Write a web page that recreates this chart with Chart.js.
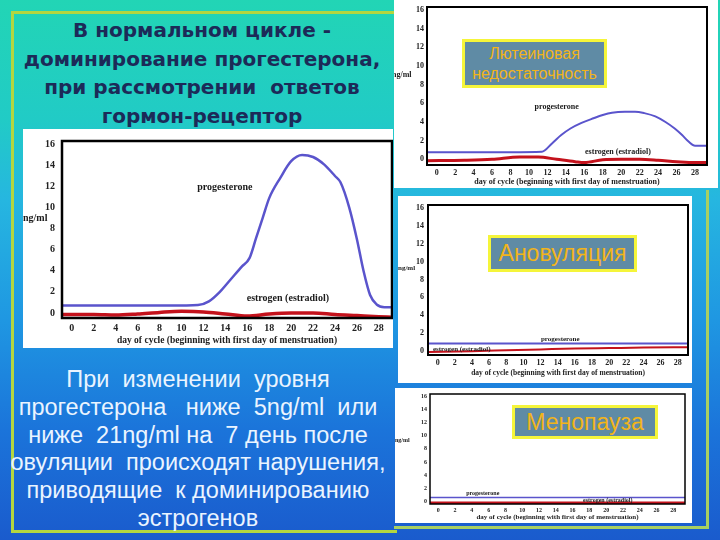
<!DOCTYPE html>
<html>
<head>
<meta charset="utf-8">
<script src="https://cdn.jsdelivr.net/npm/chart.js@4.4.0/dist/chart.umd.min.js"></script>
<style>
  html, body { margin: 0; padding: 0; }
  body {
    width: 720px; height: 540px; position: relative; overflow: hidden;
    background: linear-gradient(to bottom, #22d5b5 0px, #21cbc6 120px, #26b6e0 200px, #1f97e2 320px, #1b74da 430px, #1a5bcd 540px);
  }
  .frame-left { position: absolute; left: 11px; top: 11px; width: 383px; height: 516px; border: 3px solid #b4d640; border-right: none; }
  .frame-right { position: absolute; left: 394px; top: 190px; width: 312px; height: 336px; border-right: 3px solid #a9cf62; border-bottom: 3px solid #a9cf62; }
  .title { position: absolute; left: 12px; top: 16px; width: 380px; text-align: center; font: bold 20px/28.5px "DejaVu Sans", sans-serif; color: #1c2a58; }
  .note { position: absolute; left: 0; top: 366px; width: 396px; text-align: center; font: 23.5px/27.8px "Liberation Sans", Arial, sans-serif; color: #eaf4ff; white-space: nowrap; }
  .panel { position: absolute; background: #fff; }
  .panel canvas { display: block; }
  .callout { position: absolute; box-sizing: border-box; background: #5f8ba5; border: 3px solid #f5f53a; color: #f2b41a;
    display: flex; align-items: center; justify-content: center; text-align: center; font-family: "Liberation Sans", Arial, sans-serif; }
</style>
</head>
<body>
<div class="frame-left"></div>
<div class="frame-right"></div>

<div class="title">В нормальном цикле -<br>доминирование прогестерона,<br>при рассмотрении&nbsp; ответов<br>гормон-рецептор</div>

<div class="note">При&nbsp; изменении&nbsp; уровня<br>прогестерона&nbsp;&nbsp; ниже&nbsp; 5ng/ml&nbsp; или<br>ниже&nbsp; 21ng/ml на&nbsp; 7 день после<br>овуляции&nbsp; происходят нарушения,<br>приводящие&nbsp; к доминированию<br>эстрогенов</div>

<div class="panel" style="left:23px; top:129px;"><canvas id="normal" width="370" height="219"></canvas></div>
<div class="panel" style="left:394px; top:0px;"><canvas id="luteal" width="324" height="188"></canvas></div>
<div class="panel" style="left:398px; top:196px;"><canvas id="anov" width="294" height="187"></canvas></div>
<div class="panel" style="left:395px; top:388px;"><canvas id="meno" width="297" height="135"></canvas></div>

<div class="callout" style="left:462px; top:39px; width:145px; height:49px; font-size:16px; line-height:20px;">Лютеиновая<br>недостаточность</div>
<div class="callout" style="left:488px; top:235px; width:149px; height:37px; font-size:23px;">Ановуляция</div>
<div class="callout" style="left:512px; top:405px; width:146px; height:34px; font-size:23px;">Менопауза</div>

<script>
// axis ticks and texts
const dayTicks = [0, 2, 4, 6, 8, 10, 12, 14, 16, 18, 20, 22, 24, 26, 28];
const ngTicks = [0, 2, 4, 6, 8, 10, 12, 14, 16];
const seriesNames = ['progesterone', 'estrogen (estradiol)'];
const unitLabel = 'ng/ml';
const xTitle = 'day of cycle (beginning with first day of menstruation)';

// normal cycle
const normalProgDays = [-0.9, 3, 6, 9, 11.5, 12.5, 13.5, 14.5, 15.5, 16.2, 16.8, 17.4, 18, 19, 20, 21, 22, 23, 24, 24.5, 25.3, 26, 26.6, 27.2, 27.8, 28.5, 29.2];
const normalProgValues = [0.7, 0.7, 0.7, 0.7, 0.75, 1.1, 2.0, 3.2, 4.4, 5.2, 7.1, 9.0, 10.9, 12.8, 14.4, 15.0, 14.8, 14.1, 13.0, 12.4, 10.0, 7.0, 4.0, 1.7, 0.8, 0.55, 0.55];
const normalEstrDays = [-0.9, 2, 4, 6, 8, 10, 12, 14, 16, 18, 20, 22, 24, 26, 28, 29.2];
const normalEstrValues = [-0.15, -0.15, -0.2, -0.1, 0.05, 0.15, 0.1, -0.1, -0.3, -0.1, 0.0, 0.0, -0.15, -0.25, -0.35, -0.4];

// luteal insufficiency
const lutealProgDays = [-1.05, 4, 8, 11.4, 12.5, 13.5, 14.5, 15.7, 17, 18, 19, 20.4, 21.5, 22.5, 23.7, 24.8, 25.8, 26.6, 27.3, 28, 29.3];
const lutealProgValues = [0.75, 0.75, 0.75, 0.8, 1.7, 2.6, 3.3, 3.9, 4.4, 4.75, 5.0, 5.1, 5.1, 4.95, 4.6, 4.0, 3.3, 2.6, 1.9, 1.45, 1.45];
const lutealEstrDays = [-1.05, 3, 6, 9, 11, 13, 15, 16, 18, 20, 22, 24, 26, 28, 29.3];
const lutealEstrValues = [-0.15, -0.1, 0.0, 0.25, 0.25, 0.0, -0.25, -0.35, -0.05, 0.0, 0.0, -0.1, -0.25, -0.35, -0.35];

// anovulation
const anovProgDays = [-1.13, 10, 20, 29.2];
const anovProgValues = [0.8, 0.8, 0.8, 0.8];
const anovEstrDays = [-1.13, 4, 8, 12, 16, 20, 24, 29.2];
const anovEstrValues = [-0.15, -0.05, 0.05, 0.15, 0.25, 0.3, 0.35, 0.4];

// menopause
const menoProgDays = [-0.99, 29.4];
const menoProgValues = [0.65, 0.65];
const menoEstrDays = [-0.99, 29.4];
const menoEstrValues = [-0.2, -0.2];

const serif = '"Liberation Serif", "Times New Roman", serif';

// frame round the plot, curve names and the unit text
const decorPlugin = {
  id: 'decor',
  afterDatasetsDraw(chart, args, opts) {
    const { ctx, chartArea: a, scales: { x, y } } = chart;
    ctx.save();
    ctx.lineWidth = opts.frame;
    ctx.strokeStyle = '#000';
    ctx.strokeRect(a.left, a.top, a.right - a.left, a.bottom - a.top);
    ctx.fillStyle = '#1a1a1a';
    ctx.font = `bold ${opts.size}px ${serif}`;
    ctx.textBaseline = 'middle';
    ctx.textAlign = 'center';
    opts.names.forEach((p, i) => {
      ctx.fillText(seriesNames[i], x.getPixelForValue(p.day), y.getPixelForValue(p.value));
    });
    ctx.textAlign = 'left';
    ctx.fillText(unitLabel, opts.unit.x, y.getPixelForValue(opts.unit.value));
    ctx.restore();
  }
};

function cycleChart(id, s) {
  const points = (days, values) => days.map((d, i) => ({ x: d, y: values[i] }));
  const tickFont = { family: serif, weight: 'bold', size: s.tickSize, lineHeight: 1 };
  return new Chart(document.getElementById(id), {
    type: 'line',
    data: {
      datasets: [
        { label: seriesNames[0], data: points(s.progDays, s.progValues), borderColor: '#5a54cc', borderWidth: s.progWidth },
        { label: seriesNames[1], data: points(s.estrDays, s.estrValues), borderColor: '#c4121c', borderWidth: s.estrWidth }
      ]
    },
    options: {
      responsive: false,
      animation: false,
      devicePixelRatio: 1,
      layout: { padding: s.padding },
      elements: {
        point: { radius: 0 },
        line: { cubicInterpolationMode: 'monotone', fill: false }
      },
      plugins: {
        legend: { display: false },
        tooltip: { enabled: false },
        decor: { frame: s.frame, size: s.labelSize, names: s.names, unit: s.unit }
      },
      scales: {
        x: {
          type: 'linear', min: s.xMin, max: s.xMax,
          afterBuildTicks: sc => { sc.ticks = dayTicks.map(v => ({ value: v })); },
          afterFit: sc => { sc.height = s.xHeight; },
          grid: { display: false, drawTicks: false },
          border: { display: false },
          ticks: { padding: s.xTickPad, color: '#222', autoSkip: false, maxRotation: 0, font: tickFont },
          title: { display: true, text: xTitle, color: '#222', padding: { top: 0, bottom: s.titlePad }, font: { family: serif, weight: 'bold', size: s.titleSize } }
        },
        y: {
          type: 'linear', min: s.yMin, max: s.yMax,
          afterBuildTicks: sc => { sc.ticks = ngTicks.map(v => ({ value: v })); },
          afterFit: sc => { sc.width = s.yWidth; },
          grid: { display: false, drawTicks: false },
          border: { display: false },
          ticks: { padding: s.yTickPad, color: '#222', autoSkip: false, font: tickFont }
        }
      }
    },
    plugins: [decorPlugin]
  });
}

cycleChart('normal', {
  progDays: normalProgDays, progValues: normalProgValues, estrDays: normalEstrDays, estrValues: normalEstrValues,
  xMin: -0.9, xMax: 29.2, yMin: -0.48, yMax: 16.32,
  padding: { left: 0, top: 12, right: 1, bottom: 0 }, yWidth: 39, xHeight: 30,
  tickSize: 10, xTickPad: 5, yTickPad: 7, titleSize: 9.5, titlePad: 2,
  progWidth: 2.5, estrWidth: 3.5, frame: 2.5, labelSize: 10,
  names: [{ day: 13.95, value: 11.9 }, { day: 19.7, value: 1.36 }], unit: { x: 0, value: 9.0 }
});

cycleChart('luteal', {
  progDays: lutealProgDays, progValues: lutealProgValues, estrDays: lutealEstrDays, estrValues: lutealEstrValues,
  xMin: -1.05, xMax: 29.3, yMin: -0.61, yMax: 16.32,
  padding: { left: 0, top: 7, right: 11, bottom: 0 }, yWidth: 33, xHeight: 23,
  tickSize: 8, xTickPad: 4, yTickPad: 3, titleSize: 8, titlePad: 1,
  progWidth: 2, estrWidth: 3, frame: 2, labelSize: 8,
  names: [{ day: 13.0, value: 5.57 }, { day: 19.65, value: 0.75 }], unit: { x: -2, value: 9.0 }
});

cycleChart('anov', {
  progDays: anovProgDays, progValues: anovProgValues, estrDays: anovEstrDays, estrValues: anovEstrValues,
  xMin: -1.13, xMax: 29.2, yMin: -0.48, yMax: 16.37,
  padding: { left: 0, top: 9, right: 4, bottom: 0 }, yWidth: 30, xHeight: 28,
  tickSize: 8, xTickPad: 4, yTickPad: 4, titleSize: 7.5, titlePad: 5,
  progWidth: 2, estrWidth: 2, frame: 2, labelSize: 7,
  names: [{ day: 14.3, value: 1.3 }, { day: 2.8, value: 0.2 }], unit: { x: 0, value: 9.3 }
});

cycleChart('meno', {
  progDays: menoProgDays, progValues: menoProgValues, estrDays: menoEstrDays, estrValues: menoEstrValues,
  xMin: -0.99, xMax: 29.4, yMin: -0.35, yMax: 16.3,
  padding: { left: 0, top: 5, right: 7, bottom: 0 }, yWidth: 35, xHeight: 19,
  tickSize: 6, xTickPad: 3, yTickPad: 3, titleSize: 7, titlePad: 2,
  progWidth: 1.5, estrWidth: 3, frame: 1.5, labelSize: 6,
  names: [{ day: 5.3, value: 1.3 }, { day: 20.2, value: 0.25 }], unit: { x: 0, value: 9.2 }
});
</script>
</body>
</html>
